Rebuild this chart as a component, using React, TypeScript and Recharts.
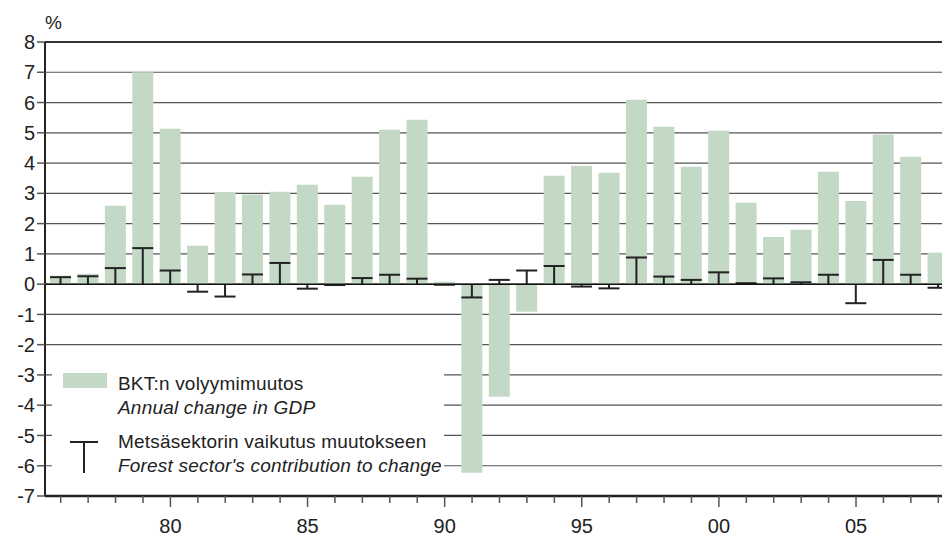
import { ComposedChart, Bar, XAxis, YAxis, CartesianGrid, ReferenceLine, Legend } from 'recharts';

// years 1976-2008
const years = [
  1976, 1977, 1978, 1979, 1980, 1981, 1982, 1983, 1984, 1985, 1986,
  1987, 1988, 1989, 1990, 1991, 1992, 1993, 1994, 1995, 1996, 1997,
  1998, 1999, 2000, 2001, 2002, 2003, 2004, 2005, 2006, 2007, 2008,
];

// BKT:n volyymimuutos, %
const gdpChange = [
  0.28, 0.34, 2.59, 7.0, 5.13, 1.27, 3.03, 2.96, 3.05, 3.28, 2.62,
  3.55, 5.1, 5.43, 0.08, -6.23, -3.72, -0.91, 3.58, 3.91, 3.68, 6.09,
  5.2, 3.88, 5.07, 2.69, 1.56, 1.8, 3.71, 2.75, 4.94, 4.21, 1.04,
];

// Metsäsektorin vaikutus muutokseen, %-yks.
const forestContribution = [
  0.23, 0.26, 0.53, 1.19, 0.45, -0.25, -0.41, 0.32, 0.7, -0.15, -0.03,
  0.2, 0.31, 0.18, -0.02, -0.44, 0.14, 0.45, 0.6, -0.08, -0.14, 0.88,
  0.25, 0.14, 0.39, 0.03, 0.19, 0.06, 0.31, -0.63, 0.8, 0.31, -0.12,
];

const yTicks = [-7, -6, -5, -4, -3, -2, -1, 0, 1, 2, 3, 4, 5, 6, 7, 8];

const data = years.map((year, i) => ({
  year,
  gdp: gdpChange[i],
  forest: forestContribution[i],
}));

const FONT = '"Liberation Sans", Arial, sans-serif';
const GREEN = '#c3d8c5';
const INK = '#222';

function ForestMarker(props: any) {
  const { x, y, width, height, payload } = props;
  if (x == null || y == null) return null;
  const top = Math.min(y, y + height);
  const bottom = Math.max(y, y + height);
  const positive = payload.forest >= 0;
  const end = positive ? top : bottom;
  const base = positive ? bottom : top;
  const cx = x + width / 2;
  return (
    <g>
      <line x1={cx} x2={cx} y1={base} y2={end} stroke={INK} strokeWidth={2} />
      <line x1={x} x2={x + width} y1={end} y2={end} stroke={INK} strokeWidth={2} />
    </g>
  );
}

function YearTick(props: any) {
  const { x, y, payload } = props;
  const yr = payload.value as number;
  const major = yr % 5 === 0;
  return (
    <g>
      <line x1={x} x2={x} y1={y} y2={y + (major ? 11 : 7)} stroke="#555" strokeWidth={1.5} />
      {major && (
        <text x={x} y={y + 37} textAnchor="middle" fill="#222" fontSize={20} fontFamily={FONT}>
          {String(yr % 100).padStart(2, '0')}
        </text>
      )}
    </g>
  );
}

function LegendBox() {
  const text = { fontFamily: FONT, fontSize: 19, color: '#222', lineHeight: '24px', whiteSpace: 'nowrap' as const, letterSpacing: 0.2 };
  return (
    <div style={{ background: '#fff', width: 392, height: 124, position: 'relative' }}>
      <div style={{ position: 'absolute', left: 11, top: 16, width: 44, height: 15, background: GREEN }} />
      <div style={{ position: 'absolute', left: 66, top: 15, ...text }}>
        <div>BKT:n volyymimuutos</div>
        <div style={{ fontStyle: 'italic' }}>Annual change in GDP</div>
      </div>
      <svg style={{ position: 'absolute', left: 17, top: 83 }} width={30} height={34}>
        <line x1={15} x2={15} y1={2} y2={33} stroke={INK} strokeWidth={2} />
        <line x1={1} x2={29} y1={2} y2={2} stroke={INK} strokeWidth={2} />
      </svg>
      <div style={{ position: 'absolute', left: 66, top: 73, ...text }}>
        <div>Metsäsektorin vaikutus muutokseen</div>
        <div style={{ fontStyle: 'italic' }}>Forest sector's contribution to change</div>
      </div>
    </div>
  );
}

export default function App() {
  return (
    <div style={{ position: 'absolute', left: 0, top: 0, width: 942, height: 536, overflow: 'hidden', background: '#fff' }}>
      <div style={{ position: 'absolute', left: 45, top: 12, fontFamily: FONT, fontSize: 19, color: '#222' }}>%</div>
      <ComposedChart
        width={960}
        height={536}
        data={data}
        margin={{ top: 42, right: 8, bottom: 0, left: 0 }}
        style={{ fontFamily: FONT }}
      >
        <CartesianGrid vertical={false} stroke="#555" strokeWidth={1.2} />
        <XAxis
          xAxisId="main"
          dataKey="year"
          interval={0}
          height={40}
          padding={{ left: 2, right: 0 }}
          tickSize={0}
          tickMargin={0}
          tickLine={false}
          axisLine={{ stroke: '#222', strokeWidth: 2.5 }}
          tick={<YearTick />}
        />
        <XAxis xAxisId="marker" dataKey="year" hide padding={{ left: 2, right: 0 }} />
        <YAxis
          domain={[-7, 8]}
          ticks={yTicks}
          interval={0}
          width={45}
          tickSize={8}
          tickMargin={2}
          axisLine={{ stroke: '#222', strokeWidth: 2 }}
          tickLine={{ stroke: '#555', strokeWidth: 1.5 }}
          tick={{ fill: '#222', fontSize: 20, fontFamily: FONT }}
        />
        <Bar xAxisId="main" dataKey="gdp" fill={GREEN} barSize={21} isAnimationActive={false} />
        <ReferenceLine xAxisId="main" y={0} stroke="#111" strokeWidth={1.5} />
        <ReferenceLine xAxisId="main" y={8} stroke="#333" strokeWidth={2} />
        <Bar xAxisId="marker" dataKey="forest" barSize={21} fill="none" shape={<ForestMarker />} isAnimationActive={false} />
        <Legend
          layout="vertical"
          align="center"
          verticalAlign="middle"
          content={() => <LegendBox />}
          wrapperStyle={{ left: 52, top: 357, width: 392, height: 124 }}
        />
      </ComposedChart>
    </div>
  );
}
